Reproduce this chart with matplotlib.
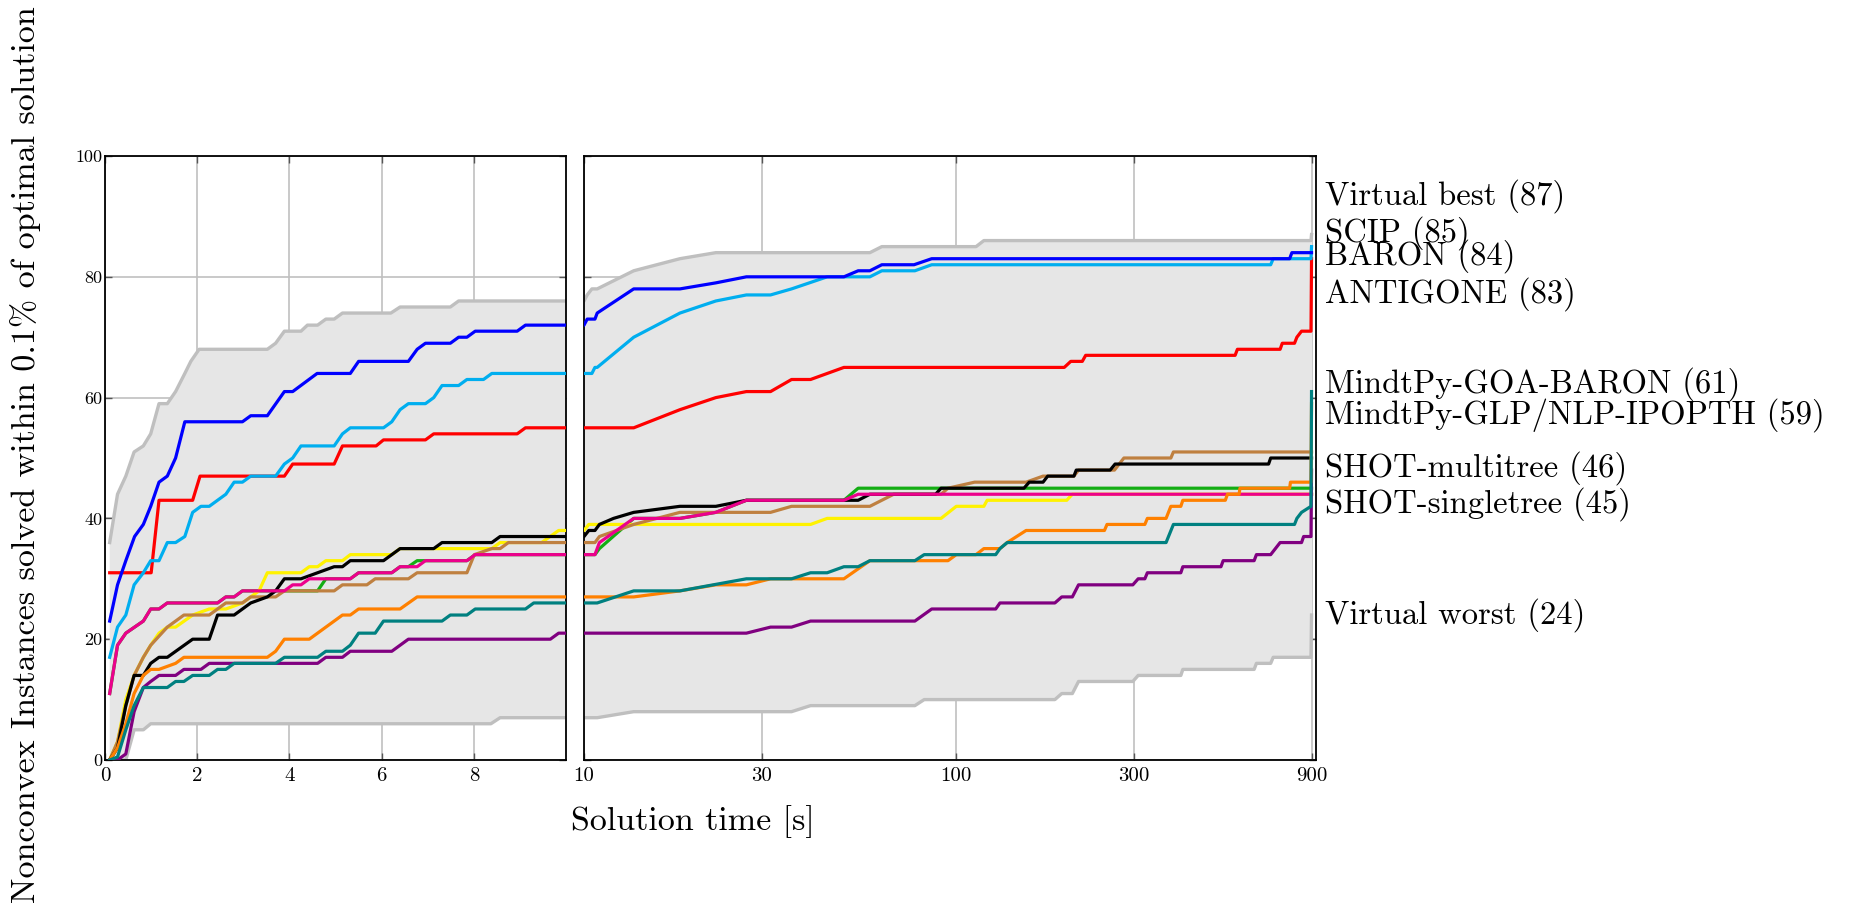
import numpy as np
import matplotlib
matplotlib.use("Agg")
import matplotlib.pyplot as plt

plt.rcParams["font.family"] = "serif"
plt.rcParams["font.serif"] = ["cmr10"]
plt.rcParams["axes.formatter.use_mathtext"] = True

# time [s] and number of instances solved, one pair per solver
t_best = [0.1, 0.27, 0.45, 0.63, 0.83, 0.99, 1.17, 1.35, 1.53, 1.73, 1.86, 2.04, 3.52, 3.7, 3.89, 4.25,
          4.39, 4.61, 4.79, 4.97, 5.15, 6.2, 6.4, 7.49, 7.67, 10, 10.2, 10.5, 10.85, 13.6, 18.1, 22.6,
          58.6, 63.1, 113, 118.6, 897, 900]
n_best = [36, 44, 47, 51, 52, 54, 59, 59, 61, 64, 66, 68, 68, 69, 71, 71, 72, 72, 73, 73, 74, 74, 75, 75,
          76, 76, 77, 78, 78, 81, 83, 84, 84, 85, 85, 86, 86, 87]

t_worst = [0.1, 0.45, 0.63, 0.83, 0.99, 8.37, 8.57, 10, 10.85, 13.6, 36.1, 40.6, 77.4, 82, 184, 192,
           205, 213, 298, 308, 401, 406, 631, 640, 699, 710, 897, 900]
n_worst = [0, 0, 5, 5, 6, 6, 7, 7, 7, 8, 8, 9, 9, 10, 10, 11, 11, 13, 13, 14, 14, 15, 15, 16, 16, 17,
           17, 24]

t_green = [0.1, 0.27, 0.45, 0.83, 0.99, 1.17, 1.35, 2.44, 2.62, 2.8, 2.98, 3.89, 4.07, 4.61, 4.79,
           5.32, 5.5, 6.22, 6.4, 6.58, 6.77, 7.85, 8.03, 10, 10.7, 11, 13.6, 18.1, 22.6, 27.3, 49.9,
           54.5, 897, 900]
n_green = [11, 19, 21, 23, 25, 25, 26, 26, 27, 27, 28, 28, 28, 28, 30, 30, 31, 31, 32, 32, 33, 33, 34,
           34, 34, 35, 40, 40, 41, 43, 43, 45, 45, 45]

t_yellow = [0.1, 0.27, 0.45, 0.63, 0.83, 0.99, 1.17, 1.35, 1.53, 1.9, 2.26, 2.62, 2.98, 3.34, 3.52,
            4.25, 4.43, 4.61, 4.79, 5.15, 5.32, 6.22, 6.4, 8.39, 8.57, 9.47, 9.84, 10, 10.3, 40.6, 45,
            91, 100, 118.6, 121, 198, 205, 897, 900]
n_yellow = [0, 3, 10, 14, 17, 19, 21, 22, 22, 24, 25, 25, 26, 28, 31, 31, 32, 32, 33, 33, 34, 34, 35,
            35, 36, 36, 38, 38, 39, 39, 40, 40, 42, 42, 43, 43, 44, 44, 44]

t_brown = [0.1, 0.27, 0.45, 0.63, 0.83, 0.99, 1.35, 1.71, 2.26, 2.62, 2.98, 3.16, 3.7, 3.89, 4.97, 5.15,
           5.68, 5.86, 6.58, 6.77, 7.85, 8.01, 8.39, 8.57, 8.75, 10, 10.7, 11, 13.6, 18.1, 31.7, 36.1,
           58.6, 67.9, 91, 95, 112, 154, 171, 207, 213, 266, 282, 377, 383, 897, 900]
n_brown = [0, 3, 9, 14, 17, 19, 22, 24, 24, 26, 26, 27, 27, 28, 28, 29, 29, 30, 30, 31, 31, 34, 35, 35,
           36, 36, 36, 37, 39, 41, 41, 42, 42, 44, 44, 45, 46, 46, 47, 47, 48, 48, 50, 50, 51, 51, 51]

t_black = [0.1, 0.27, 0.45, 0.63, 0.83, 0.99, 1.17, 1.35, 1.9, 2.26, 2.44, 2.8, 3.16, 3.52, 3.7, 3.89,
           4.25, 4.61, 4.97, 5.15, 5.32, 6.04, 6.4, 7.13, 7.31, 8.39, 8.57, 10, 10.3, 10.7, 11, 12, 13.6,
           18.1, 22.6, 27.3, 54.5, 58.6, 88, 91, 152, 157, 171, 176, 207, 210, 259, 267, 690, 699, 897,
           900]
n_black = [0, 2, 9, 14, 14, 16, 17, 17, 20, 20, 24, 24, 26, 27, 28, 30, 30, 31, 32, 32, 33, 33, 35, 35,
           36, 36, 37, 37, 38, 38, 39, 40, 41, 42, 42, 43, 43, 44, 44, 45, 45, 46, 46, 47, 47, 48, 48,
           49, 49, 50, 50, 50]

t_pink = [0.1, 0.27, 0.45, 0.83, 0.99, 1.17, 1.35, 2.44, 2.62, 2.8, 2.98, 3.89, 4.07, 4.25, 4.43, 5.32,
          5.5, 6.22, 6.4, 6.77, 6.95, 7.85, 8.03, 10, 10.7, 11, 13.6, 18.1, 22.6, 27.3, 49.9, 54.5, 897,
          900]
n_pink = [11, 19, 21, 23, 25, 25, 26, 26, 27, 27, 28, 28, 29, 29, 30, 30, 31, 31, 32, 32, 33, 33, 34, 34,
          34, 36, 40, 40, 41, 43, 43, 44, 44, 44]

t_purple = [0.1, 0.27, 0.45, 0.63, 0.83, 0.99, 1.17, 1.53, 1.71, 2.08, 2.26, 4.61, 4.79, 5.15, 5.32,
            6.22, 6.58, 9.66, 9.84, 10, 27.3, 31.7, 36.1, 40.6, 77.4, 85.9, 127.6, 131, 184, 192, 205,
            213, 298, 308, 321, 326, 401, 406, 514, 521, 631, 640, 699, 741, 846, 857, 897, 900]
n_purple = [0, 0, 1, 8, 12, 13, 14, 14, 15, 15, 16, 16, 17, 17, 18, 18, 20, 20, 21, 21, 21, 22, 22, 23,
            23, 25, 25, 26, 26, 27, 27, 29, 29, 30, 30, 31, 31, 32, 32, 33, 33, 34, 34, 36, 36, 37, 37,
            48]

t_orange = [0.1, 0.27, 0.45, 0.63, 0.83, 0.99, 1.17, 1.53, 1.71, 3.52, 3.7, 3.89, 4.43, 5.15, 5.32,
            5.5, 6.4, 6.77, 10, 13.6, 18.1, 22.6, 27.3, 31.7, 49.9, 58.6, 95, 100, 113, 118.6, 131, 137,
            154, 250, 254, 321, 326, 366, 377, 401, 406, 528, 535, 575, 578, 786, 790, 897, 900]
n_orange = [0, 2, 6, 11, 14, 15, 15, 16, 17, 17, 18, 20, 20, 24, 24, 25, 25, 27, 27, 27, 28, 29, 29,
            30, 30, 33, 33, 34, 34, 35, 35, 36, 38, 38, 39, 39, 40, 40, 42, 42, 43, 43, 44, 44, 45, 45,
            46, 46, 59]

t_teal = [0.1, 0.27, 0.45, 0.63, 0.83, 1.35, 1.53, 1.71, 1.9, 2.26, 2.44, 2.62, 2.8, 3.7, 3.89, 4.61,
          4.79, 5.15, 5.32, 5.5, 5.86, 6.04, 7.31, 7.49, 7.85, 8.03, 9.12, 9.3, 10, 10.85, 13.6, 18.1,
          27.3, 36.1, 40.6, 45, 49.9, 54.5, 58.6, 77.4, 82, 127.6, 131, 137, 366, 383, 810, 822, 846,
          897, 900]
n_teal = [0, 0.5, 5, 9, 12, 12, 13, 13, 14, 14, 15, 15, 16, 16, 17, 17, 18, 18, 19, 21, 21, 23, 23, 24,
          24, 25, 25, 26, 26, 26, 28, 28, 30, 30, 31, 31, 32, 32, 33, 33, 34, 34, 35, 36, 36, 39, 39,
          40, 41, 42, 61]

t_red = [0.1, 1.0, 1.17, 1.9, 2.06, 3.89, 4.07, 4.97, 5.15, 5.88, 6.04, 6.95, 7.13, 8.94, 9.12, 10,
         13.6, 18.1, 22.6, 27.3, 31.7, 36.1, 40.6, 49.9, 195, 203, 218, 222.6, 561, 569, 741, 751, 810,
         822, 846, 897, 900]
n_red = [31, 31, 43, 43, 47, 47, 49, 49, 52, 52, 53, 53, 54, 54, 55, 55, 55, 58, 60, 61, 61, 63, 63, 65,
         65, 66, 66, 67, 67, 68, 68, 69, 69, 70, 71, 71, 83]

t_cyan = [0.1, 0.27, 0.45, 0.63, 0.83, 0.99, 1.17, 1.35, 1.53, 1.73, 1.9, 2.08, 2.26, 2.62, 2.8, 2.98,
          3.16, 3.7, 3.89, 4.07, 4.25, 4.97, 5.15, 5.32, 6.04, 6.22, 6.4, 6.58, 6.95, 7.13, 7.31, 7.67,
          7.85, 8.21, 8.39, 10, 10.5, 10.7, 10.85, 13.6, 18.1, 22.6, 27.3, 31.7, 36.1, 45, 58.6, 63.1,
          77.4, 85.9, 699, 710, 897, 900]
n_cyan = [17, 22, 24, 29, 31, 33, 33, 36, 36, 37, 41, 42, 42, 44, 46, 46, 47, 47, 49, 50, 52, 52, 54, 55,
          55, 56, 58, 59, 59, 60, 62, 62, 63, 63, 64, 64, 64, 65, 65, 70, 74, 76, 77, 77, 78, 80, 80, 81,
          81, 82, 82, 83, 83, 85]

t_blue = [0.1, 0.27, 0.45, 0.64, 0.83, 0.99, 1.17, 1.35, 1.53, 1.73, 2.98, 3.16, 3.52, 3.89, 4.07, 4.6,
          5.32, 5.5, 6.58, 6.77, 6.95, 7.49, 7.67, 7.85, 8.03, 8.94, 9.12, 10, 10.2, 10.7, 10.85, 13.6,
          18.1, 22.6, 27.3, 49.9, 54.5, 58.6, 63.1, 77, 85.9, 786, 797, 897, 900]
n_blue = [23, 29, 33, 37, 39, 42, 46, 47, 50, 56, 56, 57, 57, 61, 61, 64, 64, 66, 66, 68, 69, 69, 70, 70,
          71, 71, 72, 72, 73, 73, 74, 78, 78, 79, 80, 80, 81, 81, 82, 82, 83, 83, 84, 84, 84]

series = [
    (t_green, n_green, "#13ad13"),
    (t_yellow, n_yellow, "#fff200"),
    (t_brown, n_brown, "#bf8040"),
    (t_black, n_black, "black"),
    (t_pink, n_pink, "#ec008c"),
    (t_purple, n_purple, "#800080"),
    (t_orange, n_orange, "#ff8000"),
    (t_teal, n_teal, "#008080"),
    (t_red, n_red, "red"),
    (t_cyan, n_cyan, "#00aeef"),
    (t_blue, n_blue, "blue"),
]

labels = ["Virtual best (87)", "SCIP (85)", "BARON (84)", "ANTIGONE (83)",
          "MindtPy-GOA-BARON (61)", "MindtPy-GLP/NLP-IPOPTH (59)",
          "SHOT-multitree (46)", "SHOT-singletree (45)", "Virtual worst (24)"]
label_y = [93.4, 87.3, 83.4, 77.2, 62.2, 57.2, 48.3, 42.4, 24.0]

fig = plt.figure(figsize=(18.73, 9.13), dpi=100)
ax1 = fig.add_axes([0.0561, 0.1676, 0.2461, 0.6615])
ax2 = fig.add_axes([0.3118, 0.1676, 0.3908, 0.6615])

grid_t = np.union1d(t_best, t_worst)
for ax, logx in ((ax1, False), (ax2, True)):
    # shaded band between virtual worst and virtual best
    xs = np.log(grid_t) if logx else grid_t
    lo = np.interp(xs, np.log(t_worst) if logx else t_worst, n_worst)
    hi = np.interp(xs, np.log(t_best) if logx else t_best, n_best)
    ax.fill_between(grid_t, lo, hi, color="#e6e6e6", lw=0, zorder=1)
    ax.plot(t_best, n_best, color="#bfbfbf", lw=2.4, zorder=2)
    ax.plot(t_worst, n_worst, color="#bfbfbf", lw=2.4, zorder=2)
    for t, n, c in series:
        ax.plot(t, n, color=c, lw=2.3, zorder=3)
    ax.set_ylim(0, 100)
    ax.set_yticks([0, 20, 40, 60, 80, 100])
    ax.grid(True, color="#c0c0c0", lw=1.2, zorder=0)
    ax.set_axisbelow(True)
    ax.tick_params(direction="in", length=5, width=1, color="#555555",
                   top=True, right=True)
    ax.tick_params(axis="x", labelsize=15, pad=5)
    ax.tick_params(axis="y", labelsize=13, pad=2)
    for sp in ax.spines.values():
        sp.set_linewidth(1.3)

ax1.set_xlim(0, 10)
ax1.set_xticks([0, 2, 4, 6, 8])
ax1.set_xticklabels(["0", "2", "4", "6", "8"])
ax1.set_yticklabels(["0", "20", "40", "60", "80", "100"])

ax2.set_xscale("log")
ax2.set_xlim(10, 925)
ax2.set_xticks([10, 30, 100, 300, 900])
ax2.set_xticklabels(["10", "30", "100", "300", "900"])
ax2.xaxis.set_minor_locator(matplotlib.ticker.NullLocator())
ax2.set_yticklabels([])

for txt, y in zip(labels, label_y):
    ax2.text(1.012, y, txt, transform=ax2.get_yaxis_transform(), fontsize=23.5,
             va="center", ha="left")

fig.text(0.370, 0.10, "Solution time [s]", fontsize=24.5, ha="center", va="center")
fig.text(0.0135, 0.502, "Nonconvex Instances solved within 0.1% of optimal solution",
         fontsize=24.5, rotation=90, ha="center", va="center")

fig.savefig("out.png", dpi=100)
